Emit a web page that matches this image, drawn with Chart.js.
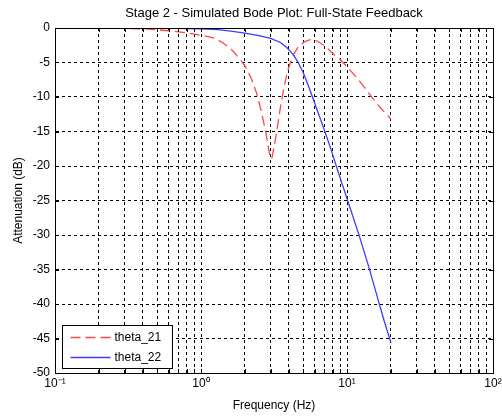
<!DOCTYPE html>
<html>
<head>
<meta charset="utf-8">
<script src="https://cdn.jsdelivr.net/npm/chart.js@4.4.0/dist/chart.umd.min.js"></script>
<style>
  html, body { margin: 0; padding: 0; background: #fff; }
  #wrap { width: 502px; height: 417px; }
</style>
</head>
<body>
<div id="wrap"><canvas id="bodeChart"></canvas></div>
<script>
// theta_21 (red dashed)
const freq21 = [0.1, 0.2, 0.3, 0.4, 0.5, 0.6, 0.7, 0.8, 0.9, 1.0, 1.2, 1.4, 1.6, 1.8, 2.0, 2.2, 2.4, 2.6, 2.8, 2.95, 3.05, 3.15, 3.3, 3.5, 3.7, 3.9, 4.2, 4.6, 5.1, 5.6, 6.0, 6.6, 7.3, 8.0, 9.0, 10, 11, 12.3, 13.5, 15, 17, 20];
const atten21 = [0, -0.02, -0.05, -0.12, -0.25, -0.4, -0.55, -0.7, -0.9, -1.05, -1.4, -2.1, -3.0, -4.2, -5.5, -7.2, -9.4, -12.2, -15.5, -18.3, -19.0, -17.5, -15.0, -11.5, -8.6, -6.4, -4.3, -2.8, -2.0, -1.7, -1.7, -2.2, -2.9, -3.7, -4.6, -5.6, -6.6, -7.8, -8.9, -10.2, -11.6, -13.2];

// theta_22 (blue solid)
const freq22 = [0.1, 0.3, 0.5, 0.7, 1.0, 1.3, 1.6, 2.0, 2.5, 3.0, 3.5, 3.9, 4.3, 4.6, 5.0, 5.4, 5.8, 6.3, 7.0, 7.8, 8.5, 9.0, 10, 12, 14, 16.6, 18, 20];
const atten22 = [0, -0.01, -0.03, -0.06, -0.12, -0.25, -0.45, -0.75, -1.1, -1.5, -2.1, -2.9, -3.9, -4.9, -6.4, -8.2, -10.0, -12.1, -14.8, -17.7, -20.2, -21.8, -24.7, -29.8, -34.4, -39.9, -42.5, -45.6];

const seriesLabels = ['theta_21', 'theta_22'];
const chartTitle = 'Stage 2 - Simulated Bode Plot: Full-State Feedback';
const xTicks = [0.1, 0.2, 0.3, 0.4, 0.5, 0.6, 0.7, 0.8, 0.9,
                1, 2, 3, 4, 5, 6, 7, 8, 9,
                10, 20, 30, 40, 50, 60, 70, 80, 90, 100];
const xTickLabels = { '0.1': '10\u207B\u00B9', '1': '10\u2070', '10': '10\u00B9', '100': '10\u00B2' };

const FONT = 'Liberation Sans, Arial, Helvetica, sans-serif';

function toPoints(xs, ys) {
    return xs.map((x, i) => ({ x: x, y: ys[i] }));
}

// title centred over the plot area (chart.js centres on the whole canvas)
const titlePlugin = {
    id: 'plotTitle',
    afterDraw(chart) {
        const { ctx, chartArea: a } = chart;
        ctx.save();
        ctx.fillStyle = '#000';
        ctx.font = '13px ' + FONT;
        ctx.textAlign = 'center';
        ctx.textBaseline = 'middle';
        ctx.fillText(chartTitle, (a.left + a.right) / 2, 13);
        ctx.restore();
    }
};

// box + inward tick marks, matlab style
const boxPlugin = {
    id: 'box',
    afterDraw(chart) {
        const { ctx, chartArea: a, scales } = chart;
        ctx.save();
        ctx.strokeStyle = '#000';
        ctx.lineWidth = 1;
        ctx.setLineDash([]);
        ctx.beginPath();
        scales.x.ticks.forEach(t => {
            const px = Math.round(scales.x.getPixelForValue(t.value)) + 0.5;
            ctx.moveTo(px, a.bottom); ctx.lineTo(px, a.bottom - 4);
            ctx.moveTo(px, a.top); ctx.lineTo(px, a.top + 4);
        });
        scales.y.ticks.forEach(t => {
            const py = Math.round(scales.y.getPixelForValue(t.value)) + 0.5;
            ctx.moveTo(a.left, py); ctx.lineTo(a.left + 4, py);
            ctx.moveTo(a.right, py); ctx.lineTo(a.right - 4, py);
        });
        ctx.stroke();
        ctx.strokeRect(Math.round(a.left) + 0.5, Math.round(a.top) + 0.5,
                       Math.round(a.right - a.left), Math.round(a.bottom - a.top));
        ctx.restore();
    }
};

// legend box in the lower left corner of the plot
const legendPlugin = {
    id: 'insideLegend',
    afterDraw(chart) {
        const { ctx, chartArea: a } = chart;
        const x0 = Math.round(a.left) + 7.5, y0 = Math.round(a.bottom) - 47.5;
        const w = 110, h = 43;
        ctx.save();
        ctx.fillStyle = '#fff';
        ctx.fillRect(x0, y0, w, h);
        ctx.strokeStyle = '#000';
        ctx.lineWidth = 1;
        ctx.strokeRect(x0, y0, w, h);
        ctx.font = '12px ' + FONT;
        ctx.textBaseline = 'middle';
        chart.data.datasets.forEach((ds, i) => {
            const yy = y0 + 12 + i * 20;
            ctx.strokeStyle = ds.borderColor;
            ctx.lineWidth = 1.3;
            ctx.setLineDash(ds.borderDash || []);
            ctx.beginPath();
            ctx.moveTo(x0 + 8, yy);
            ctx.lineTo(x0 + 48, yy);
            ctx.stroke();
            ctx.setLineDash([]);
            ctx.fillStyle = '#000';
            ctx.fillText(ds.label, x0 + 52, yy);
        });
        ctx.restore();
    }
};

const bodeCtx = document.getElementById('bodeChart').getContext('2d');
const bodeChart = new Chart(bodeCtx, {
    type: 'line',
    data: {
        datasets: [{
            label: seriesLabels[0],
            data: toPoints(freq21, atten21),
            borderColor: 'rgb(255,70,70)',
            borderWidth: 1.3,
            borderDash: [10, 5],
            pointRadius: 0,
            tension: 0,
            order: 2
        }, {
            label: seriesLabels[1],
            data: toPoints(freq22, atten22),
            borderColor: 'rgb(60,60,255)',
            borderWidth: 1.3,
            pointRadius: 0,
            tension: 0,
            order: 1
        }]
    },
    options: {
        responsive: true,
        maintainAspectRatio: false,
        animation: false,
        events: [],
        layout: { padding: { left: 0, right: 9, top: 28, bottom: 0 } },
        plugins: {
            legend: { display: false },
            tooltip: { enabled: false },
            title: { display: false }
        },
        scales: {
            x: {
                type: 'logarithmic',
                min: 0.1,
                max: 100,
                afterBuildTicks: (scale) => {
                    scale.ticks = xTicks.map(v => ({ value: v }));
                },
                afterFit: (scale) => {
                    scale.height = 44;
                    scale.paddingLeft = 0;
                    scale.paddingRight = 0;
                },
                ticks: {
                    autoSkip: false,
                    maxRotation: 0,
                    padding: 3,
                    color: '#000',
                    font: { family: FONT, size: 12 },
                    callback: (value) => xTickLabels[String(value)] || ''
                },
                grid: { color: '#000', lineWidth: 1, drawTicks: false },
                border: { display: true, color: '#000', dash: [3, 3] },
                title: {
                    display: true,
                    text: 'Frequency (Hz)',
                    color: '#000',
                    font: { family: FONT, size: 12 },
                    padding: { top: 0, bottom: 4 }
                }
            },
            y: {
                min: -50,
                max: 0,
                afterFit: (scale) => {
                    scale.width = 55;
                    scale.paddingTop = 0;
                    scale.paddingBottom = 0;
                },
                ticks: {
                    stepSize: 5,
                    padding: 5,
                    color: '#000',
                    font: { family: FONT, size: 12 }
                },
                grid: { color: '#000', lineWidth: 1, drawTicks: false },
                border: { display: true, color: '#000', dash: [3, 3] },
                title: {
                    display: true,
                    text: 'Attenuation (dB)',
                    color: '#000',
                    font: { family: FONT, size: 12 },
                    padding: { top: 11, bottom: 0 }
                }
            }
        }
    },
    plugins: [boxPlugin, legendPlugin, titlePlugin]
});
</script>
</body>
</html>
